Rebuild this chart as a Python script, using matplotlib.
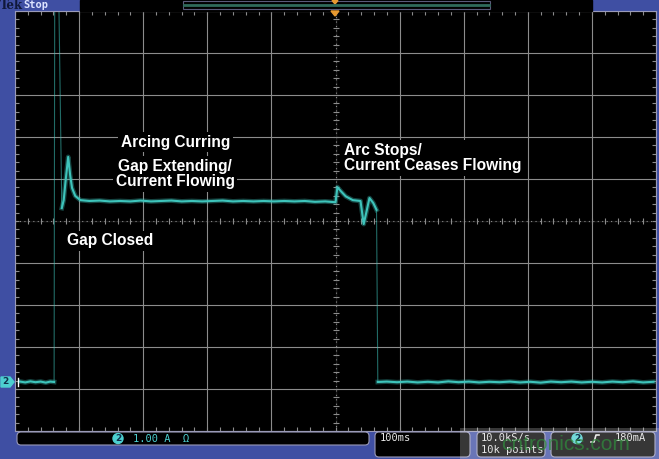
import numpy as np
import matplotlib
matplotlib.use("Agg")
import matplotlib.pyplot as plt
from matplotlib.patches import Rectangle, FancyBboxPatch, Polygon, Circle

# scope settings: 100 ms/div, 1.00 A/div, trigger at centre
I_CENTER = 23 / 6  # current at the centre graticule line

# channel 2 current (A) against time (ms)
t_before = [-492, -484, -476, -468, -460, -452, -445, -439]
i_before = [0.01, -0.01, 0.015, -0.005, 0.01, -0.015, 0.01, 0.0]

t_close = [-439, -438, -432, -427]
i_close = [0.0, 9.5, 9.5, 4.14]

t_arc = [-427, -424, -421, -417, -414, -411, -406, -398, -384, -368, -352,
         -336, -320, -304, -288, -272, -256, -240, -224, -208, -192, -176,
         -160, -144, -128, -112, -96, -80, -64, -48, -32, -16, 0, 3, 8, 16,
         27, 39, 44, 49, 53, 59, 64]
i_arc = [4.14, 4.33, 4.8, 5.36, 4.93, 4.62, 4.43, 4.33, 4.31, 4.32, 4.30,
         4.31, 4.30, 4.32, 4.30, 4.31, 4.32, 4.30, 4.31, 4.30, 4.31, 4.32,
         4.30, 4.31, 4.30, 4.31, 4.30, 4.31, 4.30, 4.31, 4.29, 4.30, 4.28, 4.64,
         4.55, 4.42, 4.33, 4.31, 3.76, 4.1, 4.38, 4.26, 4.1]

t_open = [64, 66]
i_open = [4.1, 0.0]

t_after = [66, 80, 96, 112, 128, 144, 160, 176, 192, 208, 224, 240, 256,
           272, 288, 304, 320, 336, 352, 368, 384, 400, 416, 432, 448, 464,
           480, 496]
i_after = [0.0, 0.01, -0.005, 0.01, -0.01, 0.005, -0.01, 0.015, -0.005, 0.01,
           -0.01, 0.005, -0.005, 0.01, -0.01, 0.005, -0.015, 0.01, -0.005, 0.01,
           -0.01, 0.005, -0.01, 0.01, -0.005, 0.015, -0.01, 0.005]

W, H = 659, 459
FRAME = '#3f4fa3'
TRACE = '#3ec4bb'
GRID = '#8c8c8c'
SCOPE_FONT = 'DejaVu Sans Mono'
LABEL_FONT = ['Liberation Sans', 'DejaVu Sans']

fig = plt.figure(figsize=(W / 100, H / 100), dpi=100, facecolor=FRAME)
ax = fig.add_axes([15 / W, 1 - 431 / H, 641 / W, 420 / H])
ax.set_facecolor('black')
ax.set_xlim(-500, 500)
ax.set_ylim(I_CENTER - 5, I_CENTER + 5)

# graticule
ax.set_xticks(np.arange(-500, 501, 100))
ax.set_yticks(I_CENTER + np.arange(-5, 6))
ax.grid(True, color=GRID, lw=0.8)
ax.tick_params(length=0, labelbottom=False, labelleft=False)
for s in ax.spines.values():
    s.set_color('#9a9ab8')
    s.set_linewidth(0.8)
ax.axhline(I_CENTER, color='black', lw=1.2)
ax.axvline(0, color='black', lw=1.2)
ax.axhline(I_CENTER, color=GRID, lw=0.8, ls=(0, (1, 3)))
ax.axvline(0, color=GRID, lw=0.8, ls=(0, (1, 3)))
minor_x = np.arange(-500, 501, 20)
minor_y = I_CENTER + np.arange(-5, 5.01, 0.2)
ax.plot(minor_x, np.full(minor_x.size, I_CENTER), ls='none', marker='|', ms=5, color=GRID, mew=0.8)
ax.plot(np.zeros(minor_y.size), minor_y, ls='none', marker='_', ms=5, color=GRID, mew=0.8)
ax.plot(np.full(minor_y.size, -500), minor_y, ls='none', marker='_', ms=6, color=GRID, mew=0.8)
ax.plot(np.full(minor_y.size, 500), minor_y, ls='none', marker='_', ms=6, color=GRID, mew=0.8)
ax.plot(minor_x, np.full(minor_x.size, I_CENTER + 5), ls='none', marker='|', ms=6, color=GRID, mew=0.8)
ax.plot(minor_x, np.full(minor_x.size, I_CENTER - 5), ls='none', marker='|', ms=6, color=GRID, mew=0.8)

# trace
ax.plot(t_close, i_close, color=TRACE, lw=0.8, alpha=0.55)
ax.plot(t_open, i_open, color=TRACE, lw=0.8, alpha=0.55)
for tt, ii in [(t_before, i_before), (t_arc, i_arc), (t_after, i_after)]:
    ax.plot(tt, ii, color=TRACE, lw=3.4, alpha=0.35)
    ax.plot(tt, ii, color=TRACE, lw=1.5)

# annotations
box = dict(facecolor='black', edgecolor='none', pad=2)
lab = dict(color='white', fontsize=11.2, fontweight='bold', family=LABEL_FONT, bbox=box)
ax.text(-250, 5.71, 'Arcing Curring', ha='center', va='center', **lab)
ax.text(-250, 4.95, 'Gap Extending/\nCurrent Flowing', ha='center', va='center',
        linespacing=1.0, **lab)
ax.text(-419, 3.36, 'Gap Closed', ha='left', va='center', **lab)
ax.text(14, 5.33, 'Arc Stops/\nCurrent Ceases Flowing', ha='left', va='center',
        linespacing=1.0, **lab)

# instrument chrome drawn in pixel coordinates
ui = fig.add_axes([0, 0, 1, 1], zorder=5)
ui.set_xlim(0, W)
ui.set_ylim(H, 0)
ui.axis('off')
ui.patch.set_alpha(0)

ui.add_patch(Rectangle((80, 0), 512, 10.5, color='black'))
ui.add_patch(Rectangle((183, 1), 307, 8, facecolor='black', edgecolor='#5a5a7a', lw=0.8))
ui.plot([184, 489], [5, 5], color='#2f6a5a', lw=2)
ui.add_patch(Polygon([[332, 0.5], [338, 0.5], [335, 4]], color='#e89a30'))
ui.add_patch(Polygon([[331, 11], [339, 11], [335, 16]], color='#e89a30'))
ui.text(0, 5.5, 'Tek', color='#10183a', fontsize=8.5, fontweight='bold', family='DejaVu Serif',
        va='center', ha='left')
ui.text(23, 5, 'Stop', color='#dde4ff', fontsize=7.5, fontweight='bold', family=SCOPE_FONT,
        va='center', ha='left')

# channel 2 ground marker
ui.add_patch(Polygon([[1, 377], [10, 377], [14, 382], [10, 387], [1, 387]], color='#4ccfd0'))
ui.text(5.5, 382, '2', color='#10304a', fontsize=6.5, fontweight='bold', ha='center', va='center')
ui.plot([18, 18], [378, 386], color='white', lw=1)

# readout boxes
ui.add_patch(FancyBboxPatch((17, 432), 352, 13, boxstyle='round,pad=0,rounding_size=4',
                            facecolor='black', edgecolor='#9a9ab8', lw=0.8))
ui.add_patch(Circle((118, 438.5), 5, color='#4ccfd0'))
ui.text(118, 438.8, '2', color='#10304a', fontsize=6.5, fontweight='bold', ha='center', va='center')
ui.text(133, 438.5, '1.00 A  Ω', color='#4ccfd0', fontsize=7.5, family=SCOPE_FONT,
        ha='left', va='center')
for x0, w in [(375, 95), (477, 68), (551, 104)]:
    ui.add_patch(FancyBboxPatch((x0, 432), w, 25, boxstyle='round,pad=0,rounding_size=4',
                                facecolor='black', edgecolor='#9a9ab8', lw=0.8))
ui.text(380, 438, '100ms', color='#e8e8e8', fontsize=7.5, family=SCOPE_FONT, ha='left', va='center')
ui.text(481, 438, '10.0kS/s', color='#e8e8e8', fontsize=7.5, family=SCOPE_FONT, ha='left', va='center')
ui.text(481, 450, '10k points', color='#e8e8e8', fontsize=7.5, family=SCOPE_FONT, ha='left', va='center')
ui.add_patch(Circle((577, 438.5), 5, color='#4ccfd0'))
ui.text(577, 438.8, '2', color='#10304a', fontsize=6.5, fontweight='bold', ha='center', va='center')
ui.plot([591, 594, 596, 599], [442, 442, 435, 435], color='#e8e8e8', lw=1.2)
ui.text(615, 438, '180mA', color='#e8e8e8', fontsize=7.5, family=SCOPE_FONT, ha='left', va='center')

# watermark
ui.add_patch(Rectangle((460, 428), 199, 31, facecolor='white', alpha=0.22, edgecolor='none'))
ui.text(566, 444, 'cntronics.com', color='#2f8a3c', alpha=0.75, fontsize=15,
        family=LABEL_FONT, ha='center', va='center')

fig.savefig('out.png', dpi=100, facecolor=FRAME)
